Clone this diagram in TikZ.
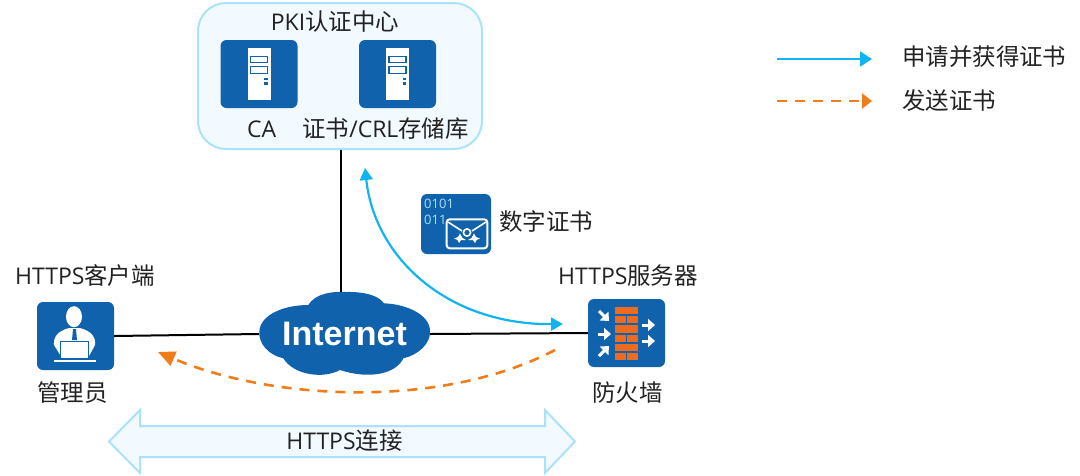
\documentclass[tikz,border=0pt]{standalone}
\usepackage{fontspec}
\setmainfont{Open Sans}
\newfontfamily\cjk[Scale=1.02]{Noto Sans CJK SC}
\newfontfamily\cloudfont{Liberation Sans}
\usetikzlibrary{arrows.meta}
\definecolor{iconblue}{HTML}{1162AC}
\definecolor{skyline}{HTML}{A9E2FA}
\definecolor{skyfill}{HTML}{F2FAFF}
\definecolor{flowblue}{HTML}{10B4EE}
\definecolor{floworange}{HTML}{F07C1A}
\definecolor{brick}{HTML}{EE6A1F}
\definecolor{inktext}{HTML}{222222}
\tikzset{
  x=1pt,y=-1pt,
  label text/.style={inner sep=0pt,text=inktext,font=\fontsize{23}{26}\selectfont},
  icon box/.style={fill=iconblue,rounded corners=6,minimum width=77,minimum height=68,inner sep=0pt},
  link/.style={draw=black,line width=2},
  bluearrow/.style={draw=flowblue,line width=2.2},
  orangearrow/.style={draw=floworange,line width=2.6,dash pattern=on 10 off 8},
  bluetip/.tip={Triangle[length=12,width=13,fill=flowblue,color=flowblue]},
  orangetip/.tip={Triangle[length=17,width=15,fill=floworange,color=floworange]},
  wall/.style={fill=brick},
  whitearrow/.style={draw=white,line width=3,-{Triangle[length=7,width=12,fill=white,color=white]}},
}
\newcommand{\servericon}[2]{%
  \begin{scope}[shift={(#1,#2)}]
    \fill[white] (0,0) rectangle (23,52);
    \draw[iconblue,line width=1.5] (2.8,8.7) rectangle (20,14.7);
    \draw[iconblue,line width=1.5] (2.8,18.7) rectangle (20,25.3);
    \fill[iconblue] (16.5,30) rectangle (20.3,32.2);
    \fill[iconblue] (16.5,34.3) rectangle (20.3,36.5);
  \end{scope}}
\begin{document}
\begin{tikzpicture}
\useasboundingbox (0,0) rectangle (1080,475);
% PKI
\node[draw=skyline,fill=skyfill,line width=2,rounded corners=28,minimum width=284,minimum height=146,inner sep=0pt] (pki) at (340,76) {};
\node[label text] (pkititle) at (335,22) {PKI{\cjk 认证中心}};
\node[icon box] (ca) at (259,74) {};
\node[icon box] (store) at (397.5,74) {};
\servericon{247.5}{48}
\servericon{386}{48}
\node[label text] (calabel) at (261.7,129) {CA};
\node[label text] (storelabel) at (385.6,129) {{\cjk 证书}/CRL{\cjk 存储库}};
% cloud
\begin{scope}[shift={(240,280)},scale=0.3333]
\fill[iconblue] (205,75) .. controls (225,40) and (280,33) .. (320,36)
  .. controls (370,35) and (415,45) .. (432,70)
  .. controls (500,72) and (572,105) .. (570,155)
  .. controls (572,190) and (535,225) .. (490,235)
  .. controls (470,280) and (390,300) .. (300,270)
  .. controls (250,298) and (160,285) .. (130,235)
  .. controls (85,225) and (55,190) .. (58,155)
  .. controls (60,105) and (130,75) .. (205,75) -- cycle;
\end{scope}
\node[inner sep=0pt,minimum width=171,minimum height=84,text=white,font=\cloudfont\fontsize{34}{36}\selectfont\bfseries] (internet) at (344.5,334) {Internet};
% client icon
\node[icon box] (client) at (75.5,336) {};
\fill[white] (74,316.7) ellipse (8 and 10.5);
\fill[white] (54,345) .. controls (53,337) and (58,331) .. (69,328) -- (80,328) .. controls (91,331) and (96,337) .. (95,345) -- (88,358) -- (62,358) -- cycle;
\fill[iconblue] (73,329) -- (76,329) -- (77,340) -- (72,340) -- cycle;
\fill[white,draw=iconblue,line width=1] (60.5,341) rectangle (88.5,358);
\fill[white] (53.5,359.5) rectangle (96,362);
\node[label text] (clientname) at (85,276) {HTTPS{\cjk 客户端}};
\node[label text] (clientlabel) at (72.5,393) {\cjk 管理员};
% firewall icon
\node[icon box] (firewall) at (626.5,333) {};
\foreach \r/\y in {0/0,1/28,2/56,3/84,4/112,5/139}{\pgfmathtruncatemacro{\odd}{mod(\r,2)}
  \pgfmathsetmacro{\ya}{(185+(365+\y)/3)}
  \pgfmathsetmacro{\yb}{\ya+7.4}
  \ifnum\odd=0
    \fill[wall] (615,\ya) rectangle (638.3,\yb);
  \else
    \fill[wall] (615,\ya) rectangle (625.7,\yb);
    \fill[wall] (627.3,\ya) rectangle (638.3,\yb);
  \fi}
\draw[whitearrow] (599,311) -- (609,321);
\draw[whitearrow] (598,334) -- (611,334);
\draw[whitearrow] (599,356) -- (609,346);
\draw[whitearrow] (642,325) -- (655,325);
\draw[whitearrow] (642,341) -- (655,341);
\node[label text] (servername) at (628,276) {HTTPS{\cjk 服务器}};
\node[label text] (fwlabel) at (627.5,393) {\cjk 防火墙};
% links
\draw[link] (client.east) -- (internet.west);
\draw[link] (internet.east) -- (firewall.west);
\draw[link] ([xshift=1]pki.south) -- ([xshift=1]pki.south |- internet.north);
% cert
\node[icon box,minimum width=70,minimum height=60] (cert) at (456,224) {};
\node[inner sep=0pt,anchor=west,text=skyline,font=\fontsize{13}{15}\selectfont] (bits) at (424,204) {0101};
\node[inner sep=0pt,anchor=west,text=skyline,font=\fontsize{13}{15}\selectfont] (bitsb) at (424,220) {011};
\draw[white,fill=iconblue,line width=2,rounded corners=3] (446.7,219.3) rectangle (487.3,248.3);
\draw[white,line width=1.6] (448,222) -- (462,231);
\draw[white,line width=1.6] (486,222) -- (472,231);
\draw[white,line width=1.6] (467,232.5) circle (3.6);
\fill[white] (460,233.5) -- (462.5,238) -- (466,240) -- (461,240) -- (459,243) -- (457.5,240) -- (454,238.5) -- (458,237) -- cycle;
\fill[white] (474,233.5) -- (471.5,238) -- (468,240) -- (473,240) -- (475,243) -- (476.5,240) -- (480,238.5) -- (476,237) -- cycle;
\node[label text] (certlabel) at (546,222) {\cjk 数字证书};
% flows
\coordinate (bluea) at (365,168);
\coordinate (blueb) at (563,324);
\draw[bluearrow,bluetip-bluetip] (bluea) .. controls (375,260) and (450,325) .. (blueb);
\coordinate (orangea) at (555,350);
\coordinate (orangeb) at (158,352);
\draw[orangearrow,-orangetip] (orangea) .. controls (440,410) and (270,400) .. (orangeb);
% big arrow
\draw[fill=skyfill,draw=skyline,line width=2] (109,441.5) -- (140,410) -- (140,426) -- (545,426) -- (545,410) -- (575,441.5) -- (545,473) -- (545,457) -- (140,457) -- (140,473) -- cycle;
\node[label text] (httpsconn) at (344.5,441) {HTTPS{\cjk 连接}};
% legend
\coordinate (lga) at (777,59);
\coordinate (lgb) at (872,59);
\coordinate (lgc) at (777,101);
\coordinate (lgd) at (872,101);
\draw[bluearrow,-{Triangle[length=12,width=15,fill=flowblue,color=flowblue]}] (lga) -- (lgb);
\draw[orangearrow,-{Triangle[length=10,width=15,fill=floworange,color=floworange]}] (lgc) -- (lgd);
\node[label text,anchor=west] (lgtexta) at (902,57) {\cjk 申请并获得证书};
\node[label text,anchor=west] (lgtextb) at (902,101) {\cjk 发送证书};
\end{tikzpicture}
\end{document}
